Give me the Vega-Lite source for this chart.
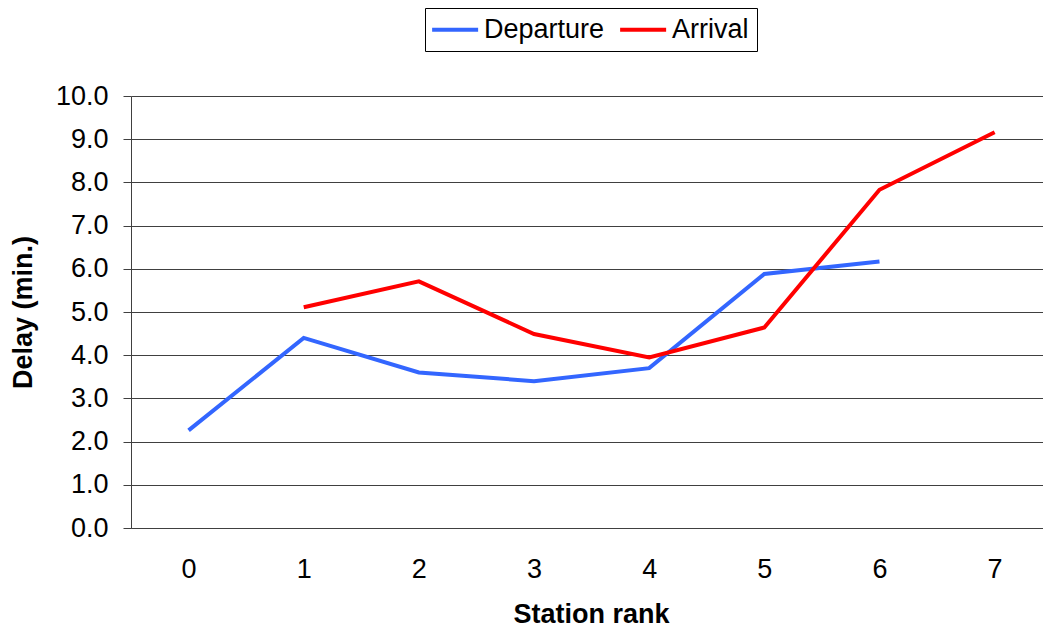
{
  "$schema": "https://vega.github.io/schema/vega-lite/v6.json",
  "autosize": "none",
  "width": 912,
  "height": 432,
  "padding": {"left": 131, "top": 96, "right": 0, "bottom": 100},
  "background": "white",
  "config": {
    "view": {"stroke": null},
    "font": "Liberation Sans",
    "axis": {
      "domainColor": "#404040",
      "tickColor": "#404040",
      "gridColor": "#404040",
      "labelColor": "black",
      "titleColor": "black",
      "labelFont": "Liberation Sans",
      "titleFont": "Liberation Sans"
    }
  },
  "data": {
    "values": [
      {"rank": 0, "series": "Departure", "delay": 2.26},
      {"rank": 1, "series": "Departure", "delay": 4.40},
      {"rank": 2, "series": "Departure", "delay": 3.60},
      {"rank": 3, "series": "Departure", "delay": 3.40},
      {"rank": 4, "series": "Departure", "delay": 3.70},
      {"rank": 5, "series": "Departure", "delay": 5.88},
      {"rank": 6, "series": "Departure", "delay": 6.17},
      {"rank": 1, "series": "Arrival", "delay": 5.11},
      {"rank": 2, "series": "Arrival", "delay": 5.71},
      {"rank": 3, "series": "Arrival", "delay": 4.49},
      {"rank": 4, "series": "Arrival", "delay": 3.95},
      {"rank": 5, "series": "Arrival", "delay": 4.64},
      {"rank": 6, "series": "Arrival", "delay": 7.83},
      {"rank": 7, "series": "Arrival", "delay": 9.16}
    ]
  },
  "mark": {"type": "line", "strokeWidth": 4, "strokeJoin": "miter", "strokeCap": "butt"},
  "encoding": {
    "x": {
      "field": "rank",
      "type": "quantitative",
      "scale": {"domain": [-0.5, 7.42], "nice": false, "zero": false},
      "axis": {
        "values": [0, 1, 2, 3, 4, 5, 6, 7],
        "format": "d",
        "grid": false,
        "ticks": false,
        "labelFontSize": 27,
        "labelPadding": 28,
        "title": "Station rank",
        "titleFontSize": 27,
        "titleFontWeight": "bold",
        "titlePadding": 19,
        "titleX": 460
      }
    },
    "y": {
      "field": "delay",
      "type": "quantitative",
      "scale": {"domain": [0, 10], "nice": false},
      "axis": {
        "values": [0, 1, 2, 3, 4, 5, 6, 7, 8, 9, 10],
        "format": ".1f",
        "grid": true,
        "tickSize": 8,
        "labelFontSize": 27,
        "labelPadding": 15,
        "title": "Delay (min.)",
        "titleFontSize": 27,
        "titleFontWeight": "bold",
        "titlePadding": 18
      }
    },
    "color": {
      "field": "series",
      "type": "nominal",
      "scale": {"domain": ["Departure", "Arrival"], "range": ["#3366ff", "#ff0000"]},
      "legend": {
        "title": null,
        "orient": "none",
        "legendX": 294,
        "legendY": -88,
        "direction": "horizontal",
        "strokeColor": "black",
        "padding": 8,
        "symbolType": "M-1.25,0H2.75",
        "symbolSize": 529,
        "symbolStrokeWidth": 4,
        "symbolFillColor": "transparent",
        "labelFontSize": 27,
        "labelColor": "black",
        "labelOffset": 24,
        "columnPadding": 7
      }
    }
  }
}
